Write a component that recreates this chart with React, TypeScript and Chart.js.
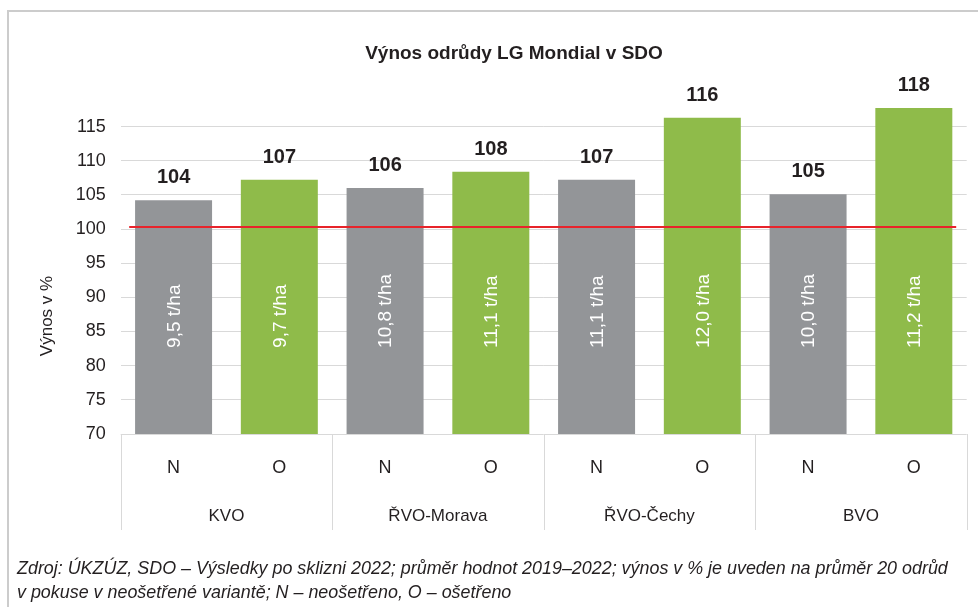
import React, { useEffect, useRef } from "react";
import { Chart, registerables } from "chart.js";

Chart.register(...registerables);

const TITLE = "Výnos odrůdy LG Mondial v SDO";
const Y_TITLE = "Výnos v %";
const GROUPS = ["KVO", "ŘVO-Morava", "ŘVO-Čechy", "BVO"];
const VARIANTS = ["N", "O"];
const VALUES = [104.2, 107.2, 106.0, 108.4, 107.2, 116.3, 105.1, 117.7];
const YIELDS = ["9,5", "9,7", "10,8", "11,1", "11,1", "12,0", "10,0", "11,2"];
const REFERENCE = 100.3;
const Y_MIN = 70;
const Y_MAX = 120;
const Y_STEP = 5;
const FOOTNOTE_1 =
  "Zdroj: ÚKZÚZ, SDO – Výsledky po sklizni 2022; průměr hodnot 2019–2022; výnos v % je uveden na průměr 20 odrůd";
const FOOTNOTE_2 = "v pokuse v neošetřené variantě; N – neošetřeno, O – ošetřeno";

const GRAY = "#939598";
const GREEN = "#8fbb4a";
const GRID = "#d9d9d9";
const FONT = "'Liberation Sans', Arial, sans-serif";

const labels = GROUPS.flatMap((g) => VARIANTS.map((v) => `${g} ${v}`));
const colors = GROUPS.flatMap(() => [GRAY, GREEN]);

const W = 978;
const H = 607;
const PLOT_LEFT = 120.7;
const PLOT_RIGHT = 966.7;
const PLOT_TOP = 92.4;
const PLOT_BOTTOM = 434;

const overlay = {
  id: "overlay",
  afterDatasetsDraw(chart: any) {
    const ctx = chart.ctx as CanvasRenderingContext2D;
    const y = chart.scales.y;
    const area = chart.chartArea;
    const meta = chart.getDatasetMeta(0);
    ctx.save();

    // reference line
    const ry = y.getPixelForValue(REFERENCE);
    ctx.strokeStyle = "#e8232b";
    ctx.lineWidth = 2;
    ctx.beginPath();
    ctx.moveTo(area.left + 8.5, ry);
    ctx.lineTo(area.right - 10.5, ry);
    ctx.stroke();

    // bar labels
    meta.data.forEach((bar: any, i: number) => {
      ctx.fillStyle = "#231f20";
      ctx.font = `bold 20px ${FONT}`;
      ctx.textAlign = "center";
      ctx.textBaseline = "alphabetic";
      ctx.fillText(String(Math.round(VALUES[i])), bar.x, bar.y - 17);

      ctx.save();
      ctx.translate(bar.x + 1, y.getPixelForValue(82.6));
      ctx.rotate(-Math.PI / 2);
      ctx.fillStyle = "#ffffff";
      ctx.font = `19px ${FONT}`;
      ctx.textAlign = "left";
      ctx.textBaseline = "middle";
      ctx.fillText(`${YIELDS[i]} t/ha`, 0, 0);
      ctx.restore();
    });

    // category axis
    ctx.strokeStyle = GRID;
    ctx.lineWidth = 1;
    ctx.beginPath();
    ctx.moveTo(area.left, area.bottom + 0.5);
    ctx.lineTo(area.right, area.bottom + 0.5);
    const groupW = (area.right - area.left) / GROUPS.length;
    for (let g = 0; g <= GROUPS.length; g++) {
      const x = Math.round(area.left + g * groupW) + 0.5;
      ctx.moveTo(x, area.bottom);
      ctx.lineTo(x, 530);
    }
    ctx.stroke();

    ctx.fillStyle = "#231f20";
    ctx.font = `18px ${FONT}`;
    ctx.textAlign = "center";
    ctx.textBaseline = "middle";
    meta.data.forEach((bar: any, i: number) => {
      ctx.fillText(VARIANTS[i % 2], bar.x, 468);
    });
    ctx.font = `17px ${FONT}`;
    GROUPS.forEach((g, i) => {
      ctx.fillText(g, area.left + (i + 0.5) * groupW, 516);
    });

    // title
    ctx.font = `bold 19px ${FONT}`;
    ctx.textBaseline = "alphabetic";
    ctx.fillText(TITLE, 514, 59);

    // y title
    ctx.save();
    ctx.translate(47, 316);
    ctx.rotate(-Math.PI / 2);
    ctx.font = `17px ${FONT}`;
    ctx.textAlign = "center";
    ctx.textBaseline = "middle";
    ctx.fillText(Y_TITLE, 0, 0);
    ctx.restore();

    ctx.restore();
  },
};

export default function App() {
  const ref = useRef<HTMLCanvasElement | null>(null);
  useEffect(() => {
    if (!ref.current) return;
    const chart = new Chart(ref.current, {
      type: "bar",
      data: {
        labels,
        datasets: [
          {
            data: VALUES,
            backgroundColor: colors,
            barPercentage: 0.728,
            categoryPercentage: 1,
          },
        ],
      },
      options: {
        responsive: false,
        animation: false,
        events: [],
        layout: {
          padding: {
            top: PLOT_TOP,
            right: W - PLOT_RIGHT,
            bottom: H - PLOT_BOTTOM,
            left: 0,
          },
        },
        plugins: {
          legend: { display: false },
          tooltip: { enabled: false },
          title: { display: false },
        },
        scales: {
          x: { display: false },
          y: {
            min: Y_MIN,
            max: Y_MAX,
            ticks: {
              stepSize: Y_STEP,
              padding: 15,
              color: "#231f20",
              font: { family: FONT, size: 18 },
              callback: (v: any) => (v === Y_MAX ? "" : String(v)),
            },
            grid: {
              drawTicks: false,
              color: (c: any) =>
                c.tick && (c.tick.value === Y_MAX || c.tick.value === Y_MIN) ? "rgba(0,0,0,0)" : GRID,
            },
            border: { display: false },
            afterFit: (s: any) => {
              s.width = PLOT_LEFT;
            },
          },
        },
      },
      plugins: [overlay],
    });
    return () => chart.destroy();
  }, []);

  return (
    <div style={{ position: "absolute", left: 0, top: 0, width: W, height: H, background: "#fff", overflow: "hidden" }}>
      <div
        style={{
          position: "absolute",
          left: 7,
          top: 10,
          width: W,
          height: H,
          borderTop: "2px solid #cccccc",
          borderLeft: "2px solid #cccccc",
        }}
      />
      <canvas ref={ref} width={W} height={H} style={{ position: "absolute", left: 0, top: 0 }} />
      <div
        style={{
          position: "absolute",
          left: 17,
          top: 556,
          fontFamily: FONT,
          fontStyle: "italic",
          fontSize: 17.9,
          lineHeight: "24px",
          color: "#231f20",
          whiteSpace: "nowrap",
        }}
      >
        {FOOTNOTE_1}
        <br />
        {FOOTNOTE_2}
      </div>
    </div>
  );
}
